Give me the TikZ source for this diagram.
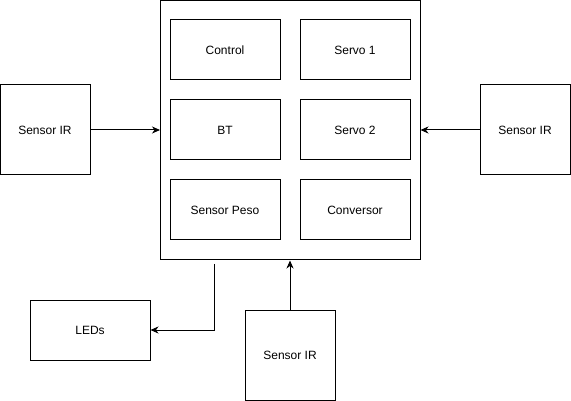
\documentclass[tikz,border=0pt]{standalone}
\usepackage{fontspec}
\setmainfont{Liberation Sans}
\usetikzlibrary{arrows.meta}
\begin{document}
\begin{tikzpicture}[x=1pt,y=-1pt,
  box/.style={draw,line width=1pt,minimum width=#1,inner sep=0pt,font=\fontsize{12}{14}\selectfont},
  box/.default=110pt,
  conn/.style={line width=1pt,-{Stealth[length=8pt,width=7pt,inset=2.5pt]}}]
\useasboundingbox (0,0) rectangle (571,401);
\node[box=259.5pt,minimum height=259.5pt] (main) at (290.25,130.25) {};
\node[box,minimum height=60pt] (control) at (225,50) {Control};
\node[box,minimum height=60pt] (servo1) at (355,50) {Servo 1};
\node[box,minimum height=60pt] (bt) at (225,130) {BT};
\node[box,minimum height=60pt] (servo2) at (355,130) {Servo 2};
\node[box,minimum height=60pt] (peso) at (225,210) {Sensor Peso};
\node[box,minimum height=60pt] (conv) at (355,210) {Conversor};
\node[box=90pt,minimum height=90pt] (lsir) at (45,130) {Sensor IR};
\node[box=90pt,minimum height=90pt] (rsir) at (525,130) {Sensor IR};
\node[box=90pt,minimum height=90pt] (bsir) at (290,355) {Sensor IR};
\node[box=120pt,minimum height=60pt] (leds) at (90,330) {LEDs};
\coordinate (ledstart) at (214.5,264);
\draw[conn] (lsir.east) -- (lsir.east -| main.west);
\draw[conn] (rsir.west) -- (rsir.west -| main.east);
\draw[conn] (bsir.north) -- (bsir.north |- main.south);
\draw[conn] (ledstart) |- (leds.east);
\end{tikzpicture}
\end{document}
